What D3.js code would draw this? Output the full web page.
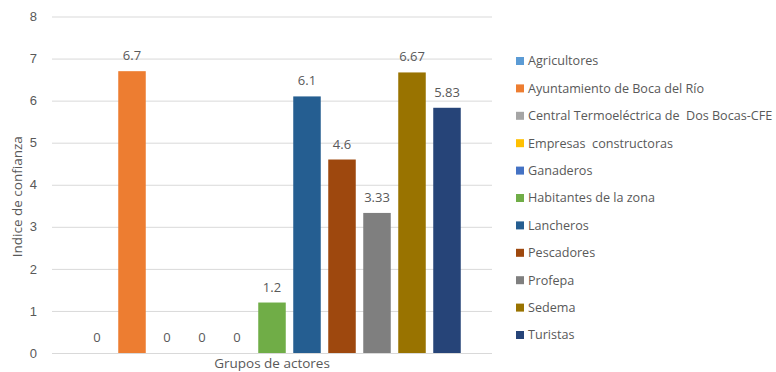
<!DOCTYPE html>
<html>
<head>
<meta charset="utf-8">
<script src="https://cdn.jsdelivr.net/npm/d3@7"></script>
<style>
  html, body { margin: 0; padding: 0; background: #fff; }
  svg { display: block; font-family: "Open Sans", "Noto Sans", sans-serif; }
  .legend text { white-space: pre; }
</style>
</head>
<body>
<svg id="chart" width="776" height="372"></svg>
<script>
// Confidence index by stakeholder group
const actors = [
  "Agricultores",
  "Ayuntamiento de Boca del Río",
  "Central Termoeléctrica de  Dos Bocas-CFE",
  "Empresas  constructoras",
  "Ganaderos",
  "Habitantes de la zona",
  "Lancheros",
  "Pescadores",
  "Profepa",
  "Sedema",
  "Turistas"
];
const values = [0, 6.7, 0, 0, 0, 1.2, 6.1, 4.6, 3.33, 6.67, 5.83];
const valueLabels = ["0", "6.7", "0", "0", "0", "1.2", "6.1", "4.6", "3.33", "6.67", "5.83"];
const colors = ["#5B9BD5", "#ED7D31", "#A5A5A5", "#FFC000", "#4472C4", "#70AD47",
                "#255E91", "#9E480E", "#7F7F7F", "#997300", "#264478"];
const yTicks = [0, 1, 2, 3, 4, 5, 6, 7, 8];
const yTitle = "Indice de confianza";
const xTitle = "Grupos de actores";

const svg = d3.select("#chart");
const plot = { left: 52, right: 492, top: 16.5, bottom: 353 };
const textColor = "#595959";

const y = d3.scaleLinear().domain([0, 8]).range([plot.bottom, plot.top]);
const x = d3.scaleBand()
  .domain(actors)
  .range([plot.left + 27.5, plot.right - 27.5])
  .paddingInner(0.214)
  .paddingOuter(0.107);

// Gridlines and tick labels
const yAxis = d3.axisLeft(y).tickValues(yTicks).tickSize(-(plot.right - plot.left)).tickPadding(15);
const gAxis = svg.append("g")
  .attr("transform", `translate(${plot.left},0)`)
  .call(yAxis);
gAxis.select(".domain").remove();
gAxis.selectAll(".tick line").attr("stroke", "#D9D9D9").attr("stroke-width", 1);
gAxis.selectAll(".tick text")
  .attr("fill", textColor)
  .style("font-size", "13px");

// Bars
svg.append("g").selectAll("rect")
  .data(actors)
  .join("rect")
  .attr("x", d => x(d))
  .attr("width", x.bandwidth())
  .attr("y", (d, i) => y(values[i]))
  .attr("height", (d, i) => y(0) - y(values[i]))
  .attr("fill", (d, i) => colors[i]);

// Value labels
svg.append("g").selectAll("text")
  .data(actors)
  .join("text")
  .attr("x", d => x(d) + x.bandwidth() / 2)
  .attr("y", (d, i) => y(values[i]) - 11)
  .attr("text-anchor", "middle")
  .attr("fill", textColor)
  .style("font-size", "13px")
  .text((d, i) => valueLabels[i]);

// Axis titles
svg.append("text")
  .attr("transform", `translate(22,${(plot.top + plot.bottom) / 2 + 12}) rotate(-90)`)
  .attr("text-anchor", "middle")
  .attr("fill", textColor)
  .style("font-size", "13.5px")
  .text(yTitle);

svg.append("text")
  .attr("x", (plot.left + plot.right) / 2)
  .attr("y", 368)
  .attr("text-anchor", "middle")
  .attr("fill", textColor)
  .style("font-size", "13.5px")
  .text(xTitle);

// Legend
const legend = svg.append("g").attr("class", "legend").attr("transform", "translate(516,61)");
const item = legend.selectAll("g")
  .data(actors)
  .join("g")
  .attr("transform", (d, i) => `translate(0,${i * 27.4})`);
item.append("rect")
  .attr("x", 0).attr("y", -4)
  .attr("width", 8).attr("height", 8)
  .attr("fill", (d, i) => colors[i]);
item.append("text")
  .attr("x", 12)
  .attr("y", 0)
  .attr("dy", "0.35em")
  .attr("fill", textColor)
  .style("font-size", "12.6px")
  .text(d => d);
</script>
</body>
</html>
